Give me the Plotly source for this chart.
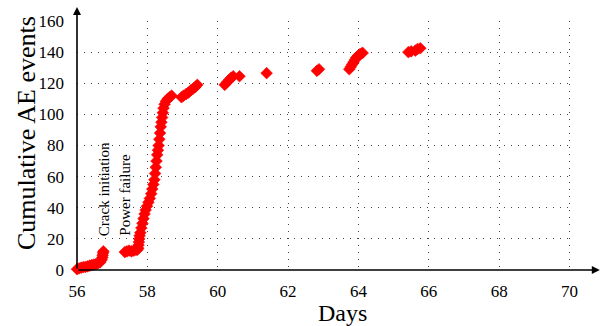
import plotly.graph_objects as go

# --- data (days, cumulative AE events) ---
days_crack = [56.00, 56.06, 56.12, 56.18, 56.24, 56.30, 56.36, 56.42, 56.48, 56.54, 56.60, 56.66, 56.70, 56.72, 56.73, 56.74, 56.75]
ev_crack = [0.5, 1.0, 1.5, 1.8, 2.0, 2.3, 2.8, 3.2, 3.5, 3.8, 4.3, 5.0, 6.5, 8.0, 9.5, 11.0, 12.0]

days_main = [57.36, 57.42, 57.48, 57.55, 57.62, 57.68, 57.72, 57.74, 57.75, 57.76, 57.77, 57.78, 57.80,
             57.83, 57.86, 57.89, 57.92, 57.95, 57.99, 58.03, 58.07, 58.11, 58.14, 58.17, 58.20, 58.22,
             58.24, 58.26, 58.28, 58.30, 58.32, 58.34, 58.36, 58.38, 58.40, 58.42, 58.44, 58.46, 58.49,
             58.53, 58.58, 58.63, 58.69]
ev_main = [11.5, 12, 12.5, 12, 12.5, 13, 13, 14, 16, 18, 20, 22, 24,
           27, 30, 33, 36, 38.5, 41, 43.5, 46, 49, 52, 55, 58, 62,
           66, 70, 74, 77, 80, 84, 88, 92, 95, 98, 101, 104, 106.5,
           108.5, 110, 111, 112]

days_late = [58.97, 59.03, 59.10, 59.17, 59.24, 59.30, 59.36, 59.42,
             60.20, 60.26, 60.32, 60.38, 60.44, 60.62,
             61.39,
             62.82, 62.88,
             63.74, 63.78, 63.82, 63.86, 63.90, 63.94, 63.98, 64.03, 64.08, 64.12,
             65.42, 65.50, 65.62, 65.68, 65.76]
ev_late = [111, 112, 113, 114, 115.5, 116.5, 117.5, 119,
           119, 120.5, 122, 123.5, 124.5, 124.5,
           126.5,
           128, 129,
           129, 130.5, 132, 133.5, 135, 136.5, 137.5, 138.5, 139, 139.5,
           140, 140.5, 141, 142, 142.5]

x_ticks = [56, 58, 60, 62, 64, 66, 68, 70]
y_ticks = [0, 20, 40, 60, 80, 100, 120, 140, 160]

FONT = "Liberation Serif, Times New Roman, serif"

days = days_crack + days_main + days_late
events = ev_crack + ev_main + ev_late

fig = go.Figure()
fig.add_trace(go.Scatter(
    x=days, y=events, mode="markers",
    marker=dict(symbol="diamond", size=9, color="#ff0000", line=dict(width=0.6, color="#ff0000")),
    cliponaxis=False, showlegend=False,
))

grid = dict(showgrid=True, gridcolor="#444444", gridwidth=1, griddash="1px,6px",
            zeroline=False, showline=False, ticks="",
            tickfont=dict(family=FONT, size=17, color="black"))

fig.update_xaxes(range=[56, 70.1], tickvals=x_ticks, ticktext=[str(v) for v in x_ticks],
                 ticklabelstandoff=9, **grid)
fig.update_yaxes(range=[0, 160], tickvals=y_ticks, ticktext=[str(v) for v in y_ticks],
                 ticklabelstandoff=12, **grid)

ann = []
# axis arrows
ann.append(dict(xref="x domain", yref="y", x=1.054, y=0, axref="x domain", ayref="y", ax=0, ay=0,
                showarrow=True, arrowhead=2, arrowsize=1, arrowwidth=1.6, arrowcolor="black", text=""))
ann.append(dict(xref="x", yref="y domain", x=56, y=1.056, axref="x", ayref="y domain", ax=56, ay=0,
                showarrow=True, arrowhead=2, arrowsize=1, arrowwidth=1.6, arrowcolor="black", text=""))
# axis titles
ann.append(dict(xref="paper", yref="paper", x=(342 - 77) / 496, y=-0.173, xanchor="center", yanchor="middle",
                text="Days", showarrow=False, font=dict(family=FONT, size=24, color="black")))
ann.append(dict(xref="paper", yref="paper", x=-(77 - 26) / 496, y=0.55, xanchor="center", yanchor="middle",
                text="Cumulative AE events", textangle=-90, showarrow=False,
                font=dict(family=FONT, size=26, color="black")))
# event labels
ann.append(dict(xref="x", yref="y", x=56.77, y=20.5, xanchor="center", yanchor="bottom",
                text="Crack initiation", textangle=-90, showarrow=False,
                font=dict(family=FONT, size=15, color="black")))
ann.append(dict(xref="x", yref="y", x=57.38, y=20.5, xanchor="center", yanchor="bottom",
                text="Power failure", textangle=-90, showarrow=False,
                font=dict(family=FONT, size=15, color="black")))

fig.update_layout(
    width=602, height=326,
    margin=dict(l=77, r=29, t=21, b=56),
    paper_bgcolor="white", plot_bgcolor="white",
    annotations=ann,
    font=dict(family=FONT, color="black"),
)

fig.write_html("out.html")
